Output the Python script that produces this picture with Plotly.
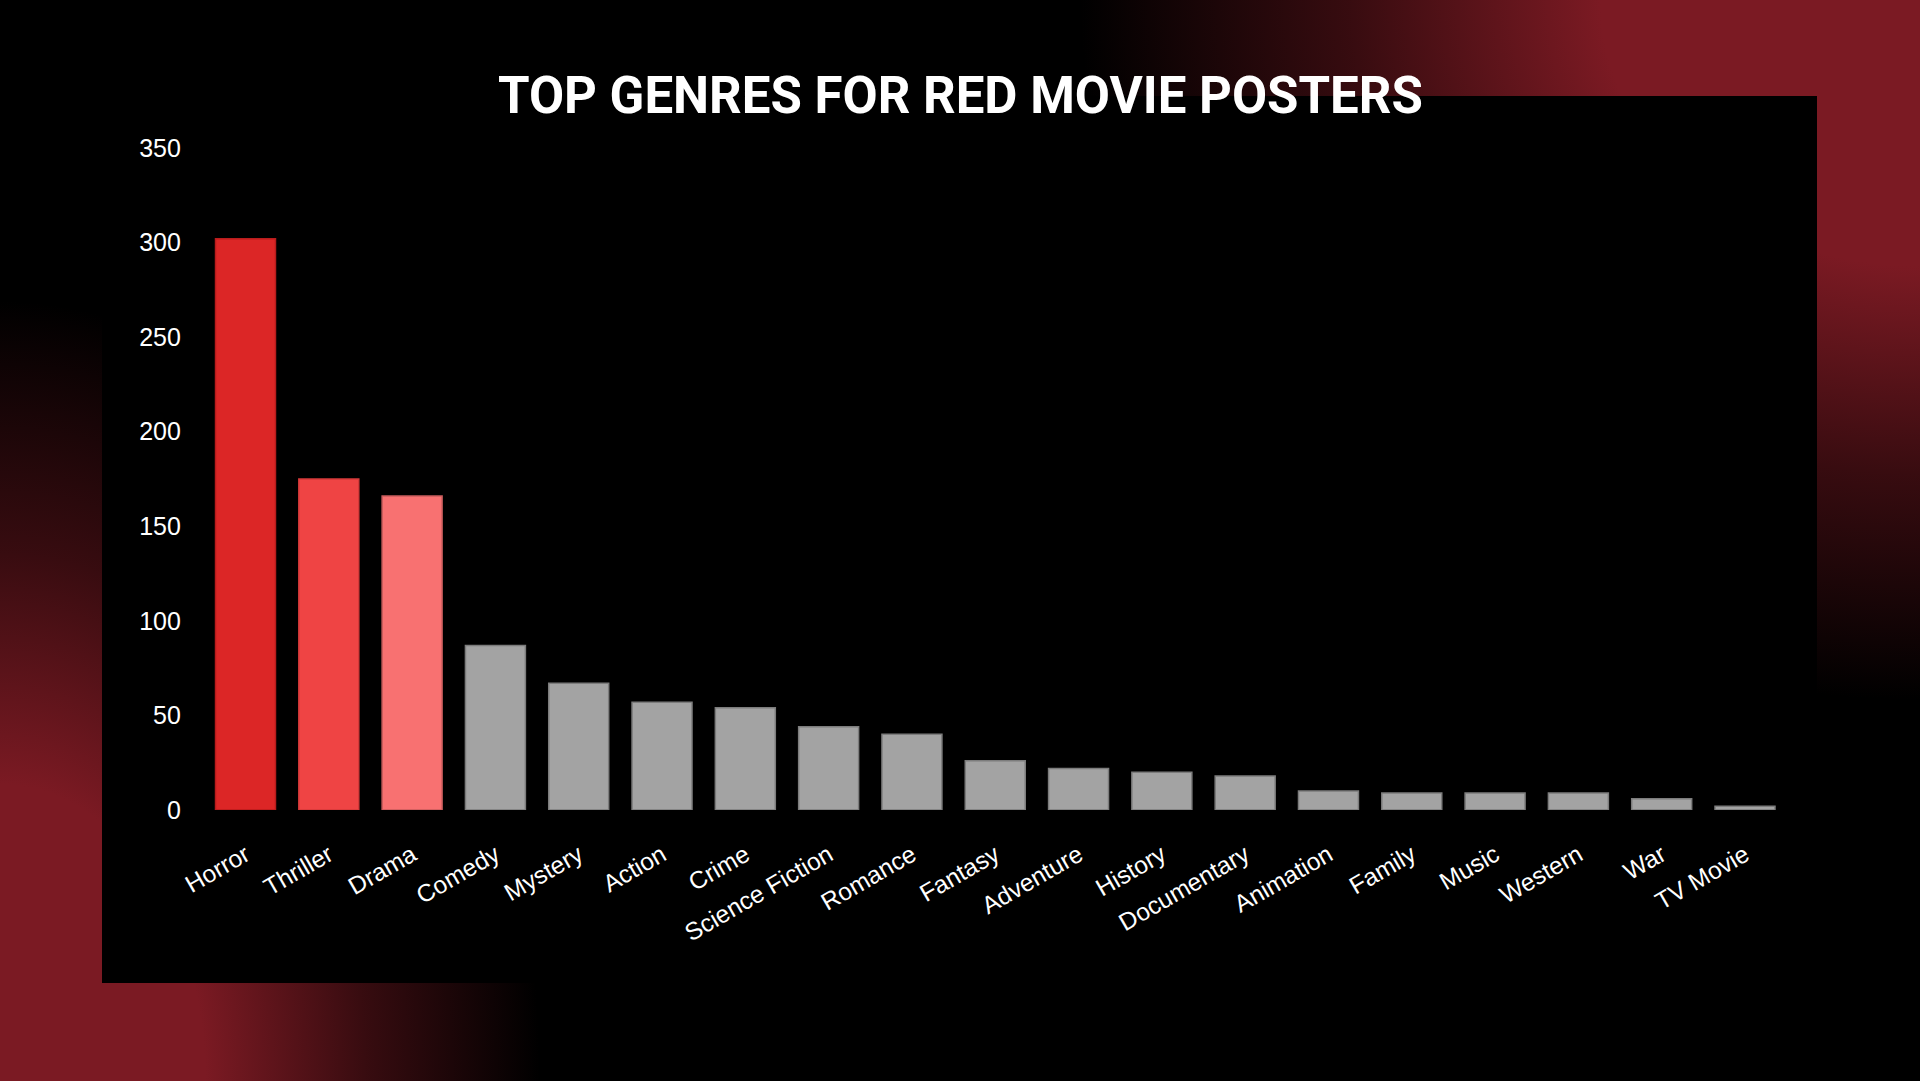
import base64
import plotly.graph_objects as go

# ---- data ----
genres = ["Horror", "Thriller", "Drama", "Comedy", "Mystery", "Action", "Crime",
          "Science Fiction", "Romance", "Fantasy", "Adventure", "History",
          "Documentary", "Animation", "Family", "Music", "Western", "War", "TV Movie"]
counts = [302, 175, 166, 87, 67, 57, 54, 44, 40, 26, 22, 20, 18, 10, 9, 9, 9, 6, 2]
y_ticks = [0, 50, 100, 150, 200, 250, 300, 350]
title_text = "TOP GENRES FOR RED MOVIE POSTERS"

# ---- styles ----
W, H = 1920, 1081
highlight_fill = ["#dc2626", "#ef4444", "#f87171"]
highlight_line = ["#b91c1c", "#d63a3a", "#c85c5c"]
gray_fill = "#a3a3a3"
gray_line = "#7c7c7c"
fills = [highlight_fill[i] if i < len(highlight_fill) else gray_fill for i in range(len(genres))]
lines = [highlight_line[i] if i < len(highlight_line) else gray_line for i in range(len(genres))]

RED = "#7b1a23"


def glow(gid, cx, cy, rx, ry):
    return (
        f'<radialGradient id="{gid}" gradientUnits="userSpaceOnUse" cx="0" cy="0" r="1" '
        f'gradientTransform="translate({cx},{cy}) scale({rx},{ry})">'
        f'<stop offset="0" stop-color="{RED}" stop-opacity="1"/>'
        f'<stop offset="0.38" stop-color="{RED}" stop-opacity="1"/>'
        f'<stop offset="0.68" stop-color="{RED}" stop-opacity="0.45"/>'
        f'<stop offset="1" stop-color="{RED}" stop-opacity="0"/>'
        f'</radialGradient>'
    )


svg = (
    f'<svg xmlns="http://www.w3.org/2000/svg" width="{W}" height="{H}" viewBox="0 0 {W} {H}" '
    f'preserveAspectRatio="none"><defs>'
    + glow("tr", W, 0, 840, 700)
    + glow("bl", 0, H, 540, 780)
    + f'</defs><rect width="{W}" height="{H}" fill="#000"/>'
    f'<rect width="{W}" height="{H}" fill="url(#tr)"/>'
    f'<rect width="{W}" height="{H}" fill="url(#bl)"/></svg>'
)
bg_src = "data:image/svg+xml;base64," + base64.b64encode(svg.encode()).decode()

fig = go.Figure(
    go.Bar(
        x=genres, y=counts,
        marker=dict(color=fills, line=dict(color=lines, width=1.5)),
        hoverinfo="x+y",
    )
)

x_dom = [203.85 / W, 1786.65 / W]
y_dom = [1 - 810 / H, 1 - 148 / H]

fig.update_layout(
    width=W, height=H,
    margin=dict(l=0, r=0, t=0, b=0, pad=0, autoexpand=False),
    paper_bgcolor="black",
    plot_bgcolor="rgba(0,0,0,0)",
    bargap=0.28,
    showlegend=False,
    font=dict(family="Liberation Sans, Arial, sans-serif", color="white", size=24),
    xaxis=dict(domain=x_dom, range=[-0.5, len(genres) - 0.5], tickangle=-30,
               automargin=False,
               showgrid=False, zeroline=False, showline=False, ticks="",
               ticklabelstandoff=25,
               tickfont=dict(size=24.5, color="white")),
    yaxis=dict(domain=y_dom, range=[0, 350], tickvals=y_ticks,
               automargin=False,
               showgrid=False, zeroline=False, showline=False, ticks="",
               ticklabelstandoff=22,
               tickfont=dict(size=25, color="white")),
    images=[dict(source=bg_src, xref="paper", yref="paper", x=0, y=1,
                 sizex=1, sizey=1, xanchor="left", yanchor="top",
                 sizing="stretch", layer="below")],
    shapes=[dict(type="rect", xref="paper", yref="paper",
                 x0=102 / W, x1=1817 / W, y0=1 - 983 / H, y1=1 - 96 / H,
                 fillcolor="black", line=dict(width=0), layer="below")],
    annotations=[dict(text=f"<b>{title_text}</b>", xref="paper", yref="paper",
                      x=0.5, y=1 - 96 / H, xanchor="center", yanchor="middle",
                      showarrow=False,
                      font=dict(family="Roboto, Inter, sans-serif", size=51, color="white"))],
)

fig.write_html("out.html", config={"displayModeBar": False},
               post_script="document.body.style.margin='0';document.body.style.background='black';")
